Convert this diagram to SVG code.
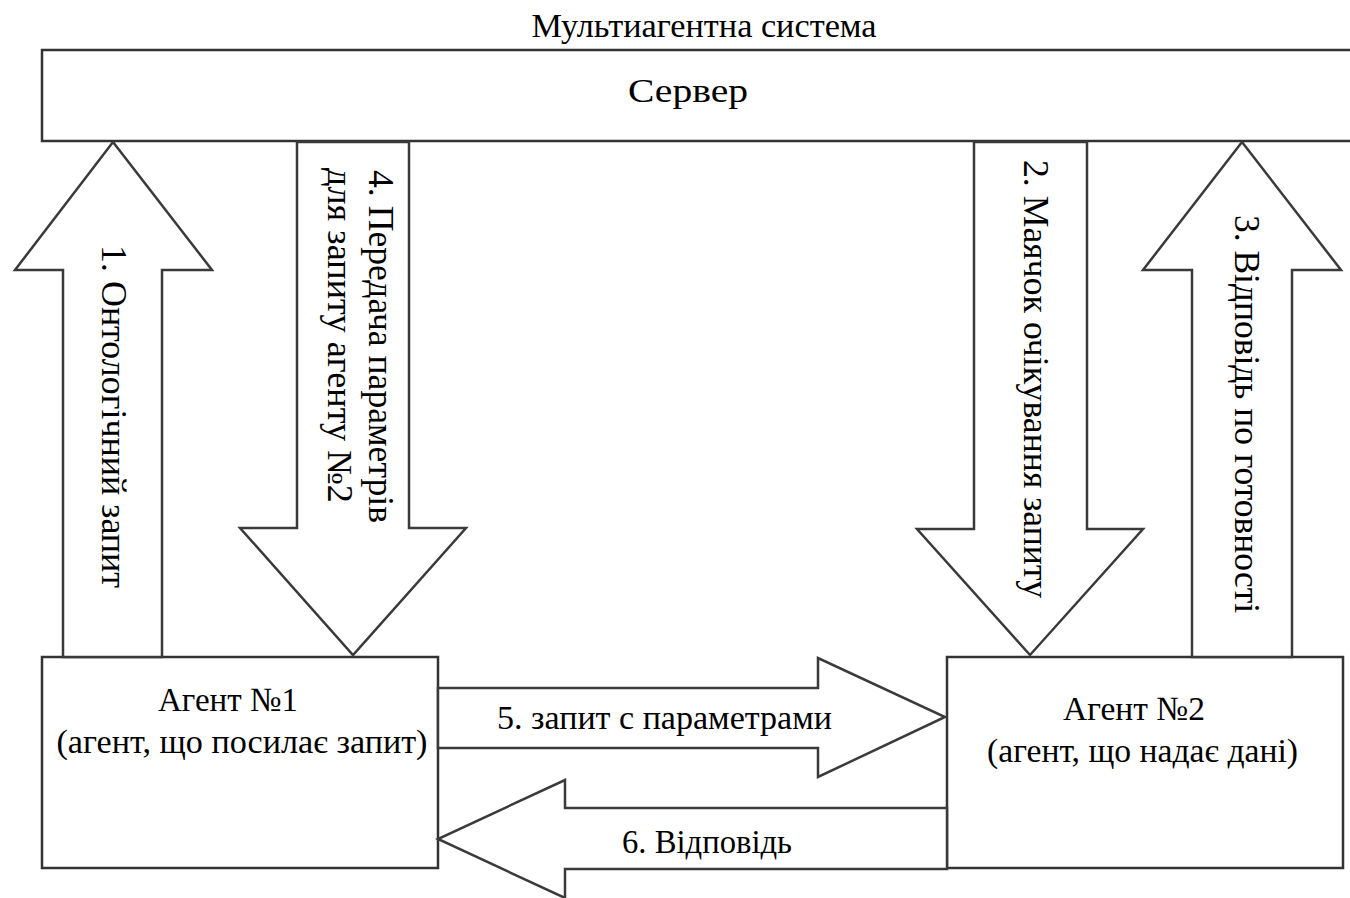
<svg xmlns="http://www.w3.org/2000/svg" width="1350" height="898" viewBox="0 0 1350 898">
<style>
.box{fill:#fff;stroke:#333;stroke-width:2.5}
.arr{fill:#fff;stroke:#3a3a3a;stroke-width:2.5;stroke-linejoin:miter}
.t{font-family:"Liberation Serif","Times New Roman",serif;font-size:34px;fill:#000}
.r{font-size:35px}
.m{text-anchor:middle}
</style>
<rect width="1350" height="898" fill="#fff"/>
<text class="t m" x="704" y="37" font-size="32" textLength="345" lengthAdjust="spacingAndGlyphs">Мультиагентна система</text>
<g id="server">
<rect class="box" x="42" y="50" width="1330" height="91"/>
<text class="t m" x="688" y="102" font-size="40" textLength="120" lengthAdjust="spacingAndGlyphs">Сервер</text>
</g>
<g id="agent1">
<rect class="box" x="42" y="657" width="396" height="211"/>
<text class="t m" x="228" y="711" textLength="140" lengthAdjust="spacingAndGlyphs">Агент №1</text>
<text class="t m" x="242" y="753" textLength="371" lengthAdjust="spacingAndGlyphs">(агент, що посилає запит)</text>
</g>
<g id="agent2">
<rect class="box" x="947" y="657" width="396" height="211"/>
<text class="t m" x="1134" y="720" textLength="142" lengthAdjust="spacingAndGlyphs">Агент №2</text>
<text class="t m" x="1142.5" y="762" textLength="311" lengthAdjust="spacingAndGlyphs">(агент, що надає дані)</text>
</g>
<g id="connectors">
<g id="arrow1">
<polygon class="arr" points="113,142 212,270 162,270 162,657 63,657 63,270 15,270"/>
<text class="t r m" transform="translate(102,416.5) rotate(90)" textLength="343" lengthAdjust="spacingAndGlyphs">1. Онтологічний запит</text>
</g>
<g id="arrow4">
<polygon class="arr" points="297,142 409,142 409,528 466,528 353,655 240,528 297,528"/>
<text class="t r" transform="translate(369,170) rotate(90)" textLength="353" lengthAdjust="spacingAndGlyphs">4. Передача параметрів</text>
<text class="t r" transform="translate(328,168) rotate(90)" textLength="335" lengthAdjust="spacingAndGlyphs">для запиту агенту №2</text>
</g>
<g id="arrow2">
<polygon class="arr" points="974,142 1087,142 1087,529 1143,529 1030,655 917,529 974,529"/>
<text class="t r m" transform="translate(1024,379) rotate(90)" textLength="438" lengthAdjust="spacingAndGlyphs">2. Маячок очікування запиту</text>
</g>
<g id="arrow3">
<polygon class="arr" points="1242,142 1341,270 1292,270 1292,657 1192,657 1192,270 1143,270"/>
<text class="t r m" transform="translate(1235,414) rotate(90)" textLength="398" lengthAdjust="spacingAndGlyphs">3. Відповідь по готовності</text>
</g>
<g id="arrow5">
<polygon class="arr" points="438,688 818,688 818,658 945,717 818,777 818,748 438,748"/>
<text class="t m" x="664.5" y="729" textLength="335" lengthAdjust="spacingAndGlyphs">5. запит с параметрами</text>
</g>
<g id="arrow6">
<polygon class="arr" points="947,808 565,808 565,780 438,839 565,898 565,869 947,869"/>
<text class="t m" x="707" y="853" textLength="170" lengthAdjust="spacingAndGlyphs">6. Відповідь</text>
</g>
</g>
</svg>
